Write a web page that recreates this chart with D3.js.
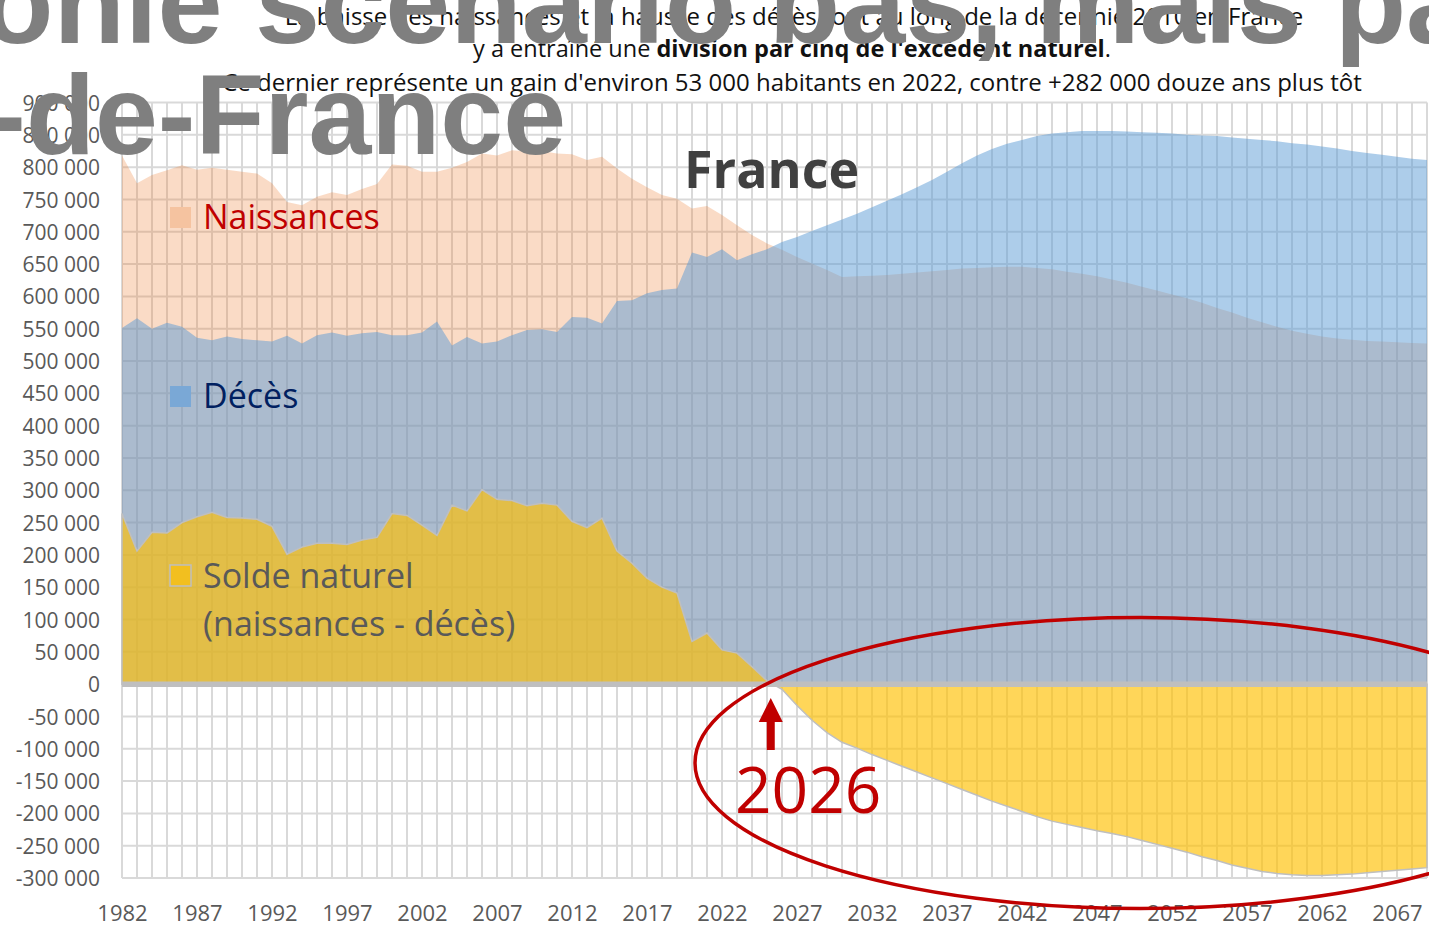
<!DOCTYPE html>
<html><head><meta charset="utf-8">
<script src="https://cdn.jsdelivr.net/npm/d3@7"></script>
<style>
body{margin:0;background:#fff}
svg{display:block}
</style>
</head><body>
<svg id="c" width="1429" height="926" font-family="Open Sans"></svg>
<script>
// ---- DATA (thousands of people, France) ----
const years = d3.range(1982, 2070);
const birthsK = [818,775,788,795,803,796,799,796,793,790,775,746,741,754,761,757,766,774,804,802,793,793,
  799,808,821,818,826,824,825,821,820,811,816,798,782,769,757,751,736,740,726,710,695,682,
  672,661,651,641,630,631,632,633,635,637,639,641,643,644,645,646,646,644,642,638,635,631,626,621,
  615,609,603,597,590,582,575,567,560,553,547,542,538,535,533,531,530,529,528,527];
const deathsK = [551,566,550,559,553,536,532,538,534,532,530,539,527,540,544,539,543,545,540,540,544,561,
  524,537,527,530,540,548,549,545,568,567,558,593,594,605,610,612,668,661,673,656,665,673,
  684,692,701,710,719,728,738,748,758,769,780,793,806,818,828,836,842,848,852,854,856,856,856,855,
  854,853,852,850,849,848,846,844,842,840,837,835,832,829,825,822,819,816,813,811];
const soldeK = [264,206,235,234,250,259,266,258,257,255,244,201,212,218,218,216,223,227,264,261,246,230,
  277,268,301,286,284,276,280,277,252,242,257,206,187,164,150,141,66,79,53,48,27,5,
  -8,-33,-56,-75,-90,-99,-109,-118,-127,-136,-145,-154,-163,-172,-181,-189,-197,-205,-212,-217,-222,-227,-231,-236,
  -242,-248,-254,-260,-267,-273,-280,-285,-290,-293,-295,-296,-296,-295,-294,-292,-290,-288,-286,-284];
const xTickYears = [1982,1987,1992,1997,2002,2007,2012,2017,2022,2027,2032,2037,2042,2047,2052,2057,2062,2067];
const yTicks = d3.range(-300000, 900001, 50000);
const legendItems = ["Naissances","Décès","Solde naturel","(naissances - décès)"];

const svg = d3.select("#c");
const x = d3.scaleLinear().domain([1982, 2069]).range([122, 1427]);
const y = d3.scaleLinear().domain([-300000, 900000]).range([878, 102.5]);
const loc = d3.formatLocale({decimal:",", thousands:"\u00a0", grouping:[3], currency:["","€"], minus:"-"});
const fmt = loc.format(",d");

// grid
const grid = svg.append("g").attr("stroke","#d9d9d9").attr("stroke-width",2);
grid.selectAll("line.h").data(yTicks).join("line")
  .attr("x1", x(1982)).attr("x2", x(2069)).attr("y1", d=>y(d)).attr("y2", d=>y(d));
grid.selectAll("line.v").data(years).join("line")
  .attr("x1", d=>x(d)).attr("x2", d=>x(d)).attr("y1", y(900000)).attr("y2", y(-300000));

function areaOf(arr){
  return d3.area().x((d,i)=>x(years[i])).y0(y(0)).y1(d=>y(d*1000))(arr);
}
svg.append("path").attr("d", areaOf(birthsK)).attr("fill","#ED7D31").attr("fill-opacity",0.28);
svg.append("path").attr("d", areaOf(deathsK)).attr("fill","#5B9BD5").attr("fill-opacity",0.5);
svg.append("path").attr("d", areaOf(soldeK)).attr("fill","#FFC000").attr("fill-opacity",0.65)
  .attr("stroke","#bfbfbf").attr("stroke-width",1.5);
// zero line
svg.append("line").attr("x1", x(1982)).attr("x2", x(2069)).attr("y1", y(0)).attr("y2", y(0))
  .attr("stroke","#bfbfbf").attr("stroke-width",5.5);

// axes
const ya = svg.append("g").attr("transform",`translate(${x(1982)},0)`)
  .call(d3.axisLeft(y).tickValues(yTicks).tickFormat(fmt).tickSize(0).tickPadding(22));
ya.select(".domain").remove();
ya.selectAll("text").attr("font-family","Open Sans").attr("font-size",21).attr("fill","#595959").attr("dy","0.36em");
const xa = svg.append("g").attr("transform",`translate(0,${y(-300000)})`)
  .call(d3.axisBottom(x).tickValues(xTickYears).tickFormat(d3.format("d")).tickSize(0).tickPadding(27));
xa.select(".domain").remove();
xa.selectAll("text").attr("font-family","Open Sans").attr("font-size",22).attr("fill","#595959");

// legend
const lg = [
  {t:legendItems[0], c:"#c00000", sq:"#f5c3a0", y:229, sy:207},
  {t:legendItems[1], c:"#002060", sq:"#7aa8d6", y:408, sy:386},
  {t:legendItems[2], c:"#595959", sq:"#f2bf1f", y:588, sy:565, st:"#bfbfbf"},
];
lg.forEach(d=>{
  svg.append("rect").attr("x",170).attr("y",d.sy).attr("width",21).attr("height",21)
    .attr("fill",d.sq).attr("stroke",d.st||"none").attr("stroke-width",1.5);
  svg.append("text").attr("x",203).attr("y",d.y).attr("font-size",34).attr("fill",d.c).text(d.t);
});
svg.append("text").attr("x",203).attr("y",636).attr("font-size",34).attr("fill","#595959").text(legendItems[3]);

svg.append("text").attr("x",684).attr("y",188).attr("font-size",52).attr("font-weight","bold")
  .attr("fill","#404040").text("France");

// subtitle lines 1-2
const sub = svg.append("g").attr("font-size",24).attr("fill","#111").attr("text-anchor","middle");
sub.append("text").attr("x",794).attr("y",25)
  .text("La baisse des naissances et la hausse des décès tout au long de la décennie 2010 en France");
const l2 = sub.append("text").attr("x",792).attr("y",57).attr("font-size",23.5);
l2.append("tspan").text("y a entraîné une ");
l2.append("tspan").attr("font-weight","bold").text("division par cinq de l'excédent naturel");
l2.append("tspan").text(".");

// big grey overlay headline
const big = svg.append("g").attr("font-weight","bold").attr("fill","#7f7f7f");
big.append("text").attr("x",125).attr("y",43).attr("text-anchor","end").attr("font-size",117)
  .attr("font-family","Liberation Sans").text("dépasseraient les naissances selon ");
big.append("text").attr("x",125).attr("y",43).attr("font-size",117)
  .attr("font-family","Liberation Sans").text("le scénario bas, mais pas en");
big.append("text").attr("x",566).attr("y",154).attr("text-anchor","end").attr("font-size",113)
  .attr("font-family","Liberation Sans").text("Île-de-France");

// subtitle line 3 (on top)
sub.append("text").attr("x",792).attr("y",91)
  .text("Ce dernier représente un gain d'environ 53 000 habitants en 2022, contre +282 000 douze ans plus tôt");

// annotation
const ax = x(2025.25);
svg.append("rect").attr("x",ax-4).attr("y",720).attr("width",8).attr("height",30).attr("fill","#c00000");
svg.append("path").attr("d",`M${ax-12},722 L${ax+12},722 L${ax},698 Z`).attr("fill","#c00000");
svg.append("text").attr("x",735).attr("y",813).attr("font-size",64).attr("fill","#c00000").text("2026");
svg.append("ellipse").attr("cx",1140).attr("cy",763).attr("rx",445).attr("ry",145.5)
  .attr("fill","none").attr("stroke","#c00000").attr("stroke-width",3.5);
</script>
</body></html>
